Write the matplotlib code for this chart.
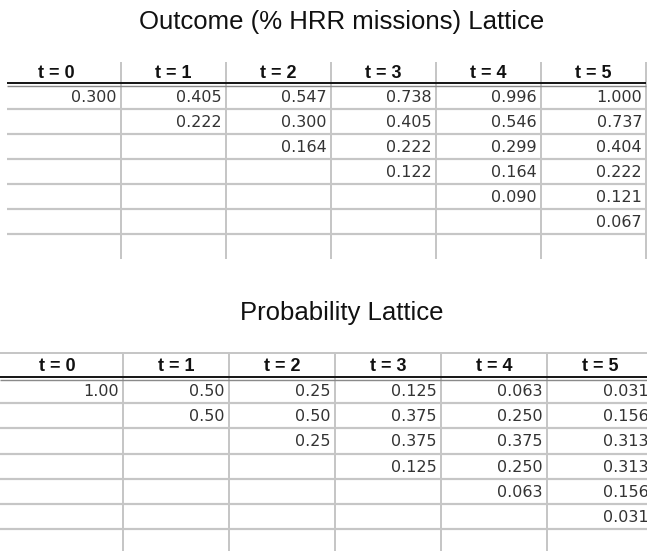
import matplotlib
matplotlib.use("Agg")
import matplotlib.pyplot as plt
from matplotlib import font_manager

# ---------------- data ----------------
time_labels = ["t = 0", "t = 1", "t = 2", "t = 3", "t = 4", "t = 5"]

outcome_t0 = [0.300]
outcome_t1 = [0.405, 0.222]
outcome_t2 = [0.547, 0.300, 0.164]
outcome_t3 = [0.738, 0.405, 0.222, 0.122]
outcome_t4 = [0.996, 0.546, 0.299, 0.164, 0.090]
outcome_t5 = [1.000, 0.737, 0.404, 0.222, 0.121, 0.067]

prob_t0 = [1.00]
prob_t1 = [0.50, 0.50]
prob_t2 = [0.25, 0.50, 0.25]
prob_t3 = [0.125, 0.375, 0.375, 0.125]
prob_t4 = [0.063, 0.250, 0.375, 0.250, 0.063]
prob_t5 = [0.031, 0.156, 0.313, 0.313, 0.156, 0.031]

outcome_decimals = [3, 3, 3, 3, 3, 3]
prob_decimals = [2, 2, 2, 3, 3, 3]

title_outcome = "Outcome (% HRR missions) Lattice"
title_prob = "Probability Lattice"

# ---------------- fonts ----------------
names = {f.name for f in font_manager.fontManager.ttflist}
header_family = ["Liberation Sans Narrow"] if "Liberation Sans Narrow" in names else ["Liberation Sans"]
value_family = ["DejaVu Sans"]
title_family = ["Liberation Sans"]

W, H = 647, 551
fig = plt.figure(figsize=(W / 100, H / 100), dpi=100)
ax = fig.add_axes([0, 0, 1, 1])
ax.set_xlim(0, W)
ax.set_ylim(H, 0)
ax.axis("off")

px = 72 / 100  # points per pixel
grid_col = "#c6c6c6"


def draw_table(columns, decimals, title, title_y, x_first_left, x_line_start, first_right, col_w,
               head_top, thick_y, row_h, n_rows, bottom, top_border):
    ax.text(W / 2 + 18, title_y, title, ha="center", va="center", fontsize=18.5,
            family=title_family, color="#111111")
    ncol = len(columns)
    rights = [first_right + i * col_w for i in range(ncol)]
    lefts = [x_first_left] + rights[:-1]
    # vertical dividers
    ax.vlines(rights, head_top, bottom, colors=grid_col, lw=2 * px)
    # horizontal row lines
    x_end = rights[-1]
    for r in range(1, n_rows):
        ax.hlines(thick_y + r * row_h, x_line_start, x_end, colors=grid_col, lw=2.2 * px)
    if top_border:
        ax.hlines(head_top, x_line_start, x_end, colors=grid_col, lw=2 * px)
    # double line under header
    ax.hlines(thick_y - 0.6, x_line_start, x_end, colors="#1a1a1a", lw=2.0 * px)
    ax.hlines(thick_y + 1.8, x_line_start, x_end, colors="#8a8a8a", lw=1.4 * px)
    # header labels
    for i, lab in enumerate(time_labels):
        cx = (lefts[i] + rights[i]) / 2
        ax.text(cx, (head_top + thick_y) / 2 + 1, lab, ha="center", va="center",
                fontsize=13, fontweight="bold", family=header_family, color="#111111")
    # values
    for i, col in enumerate(columns):
        for r, v in enumerate(col):
            y = thick_y + (r + 0.5) * row_h + 1
            ax.text(rights[i] - 4, y, f"{v:.{decimals[i]}f}", ha="right", va="center",
                    fontsize=11.5, family=value_family, color="#333333")


draw_table([outcome_t0, outcome_t1, outcome_t2, outcome_t3, outcome_t4, outcome_t5],
           outcome_decimals, title_outcome, 22,
           x_first_left=-8, x_line_start=7, first_right=121, col_w=105,
           head_top=62, thick_y=84, row_h=25, n_rows=7, bottom=259, top_border=False)

draw_table([prob_t0, prob_t1, prob_t2, prob_t3, prob_t4, prob_t5],
           prob_decimals, title_prob, 313,
           x_first_left=-8, x_line_start=0, first_right=123, col_w=106,
           head_top=353, thick_y=378, row_h=25.2, n_rows=7, bottom=560, top_border=True)

fig.savefig("out.png", dpi=100)
